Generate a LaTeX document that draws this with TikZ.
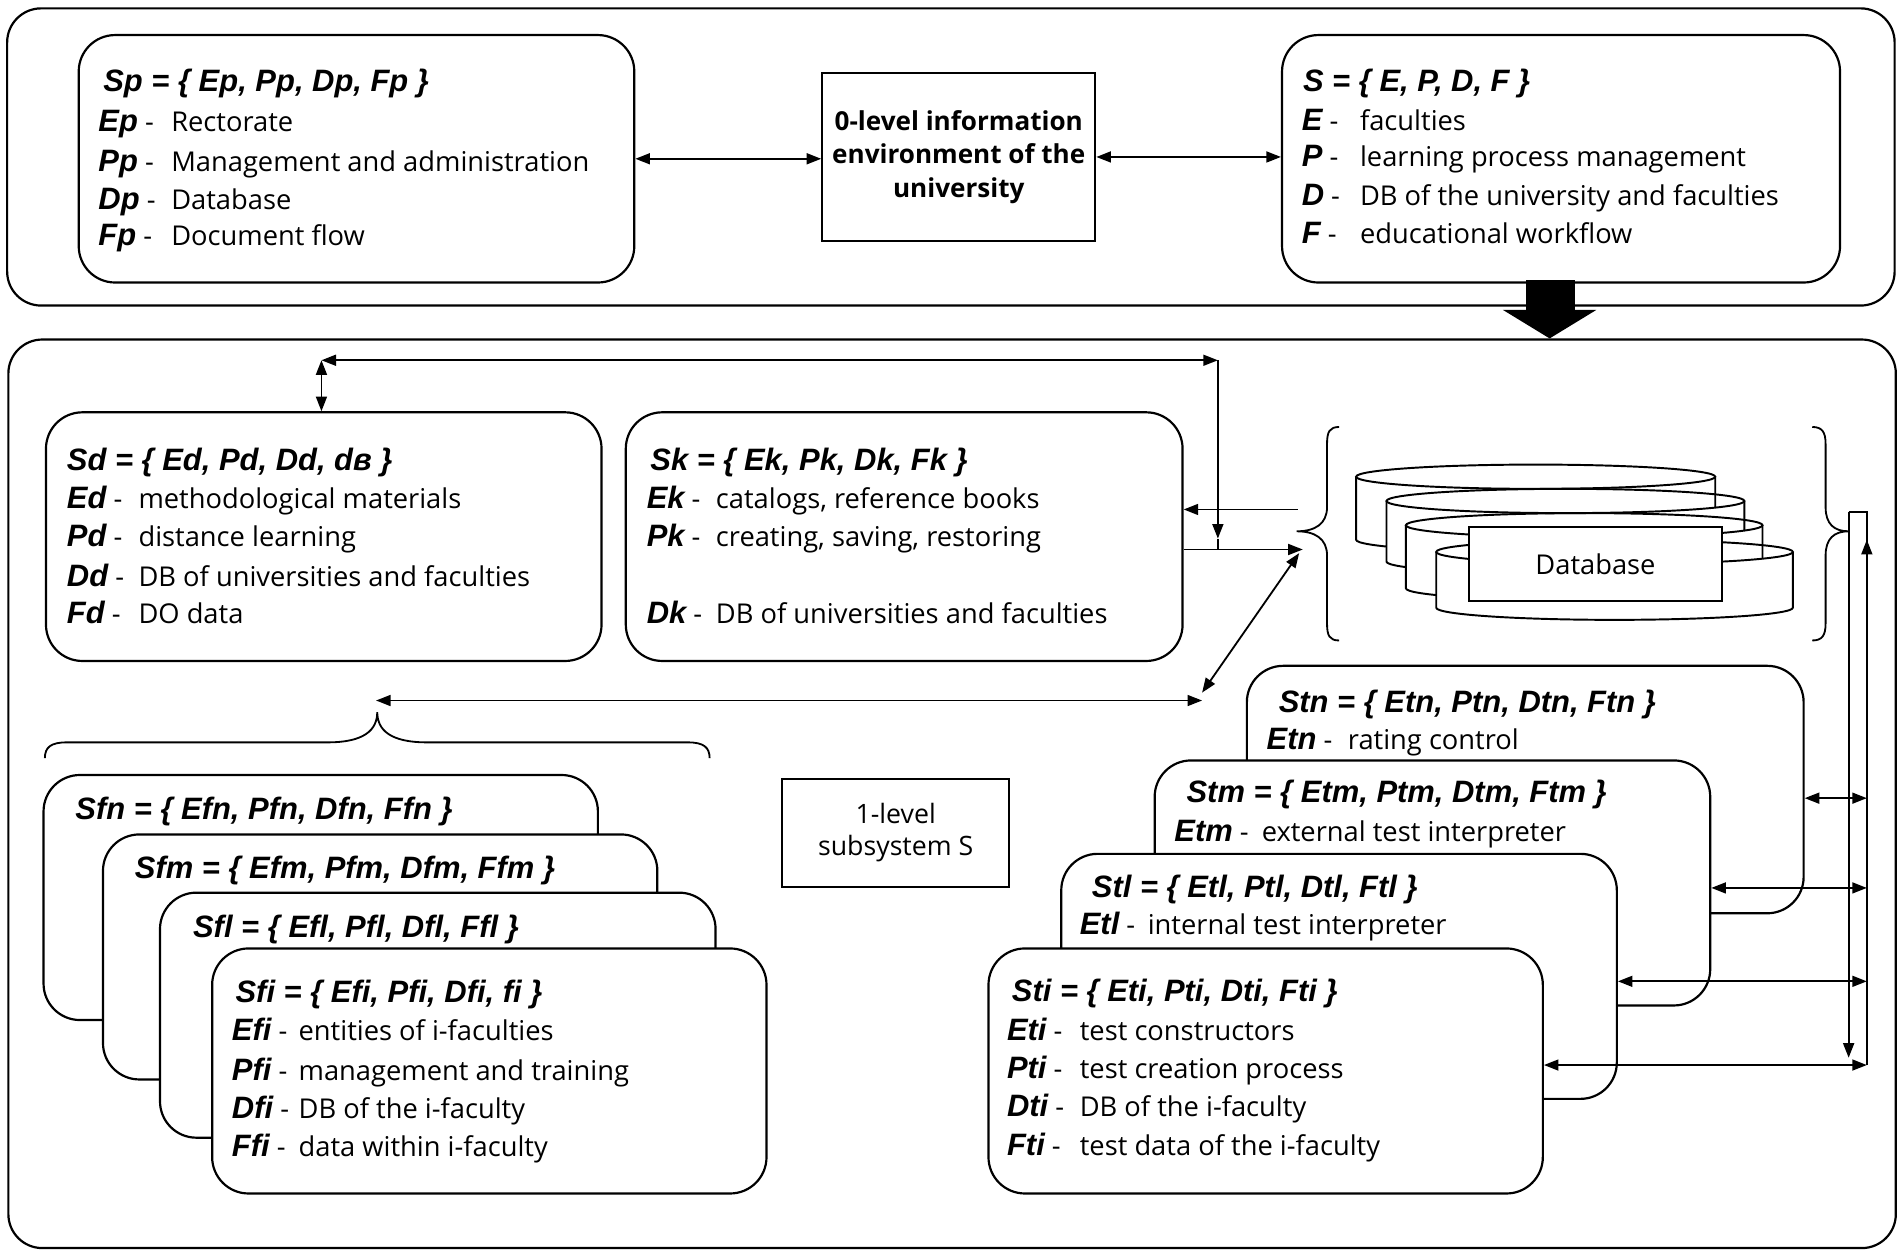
\documentclass[tikz,border=0pt]{standalone}
\usepackage{fontspec}
\setmainfont{Open Sans}
\newfontfamily\labfont{Liberation Sans}[Ligatures=NoCommon]
\usetikzlibrary{arrows.meta}
\newcommand\labsty{\labfont\bfseries\itshape\fontsize{25.5}{30}\selectfont}
\newcommand\rowtxt[6]{%
  \node[lab] (#1l) at (#2,#3+8.5) {{\labsty #4}\ -};
  \node[desc] (#1d) at (#5,#3+8.5) {#6};}
\newcommand\titletxt[4]{\node[lab] (#1) at (#2,#3+8.5) {{\labsty #4}};}
\newcommand\dbcyl[4]{%
  \fill[white] (#1,#2) arc[start angle=180,end angle=360,x radius=#4pt,y radius=10pt]
     -- (#1+2*#4,#3) arc[start angle=360,end angle=180,x radius=#4pt,y radius=10pt] -- cycle;
  \draw[line width=1.6pt] (#1,#2) -- (#1,#3) arc[start angle=180,end angle=360,x radius=#4pt,y radius=10pt] -- (#1+2*#4,#2);
  \draw[line width=1.6pt] (#1+#4,#2) ellipse[x radius=#4pt,y radius=10pt];}
\begin{document}
\begin{tikzpicture}[x=1pt,y=-1pt,
  outer/.style={draw, line width=1.8pt, rounded corners=28pt, anchor=north west, inner sep=0pt},
  box/.style={draw, fill=white, line width=1.8pt, rounded corners=30pt, anchor=north west, inner sep=0pt,
              minimum width=458pt, minimum height=202pt},
  plain/.style={draw, fill=white, line width=1.8pt, anchor=north west, inner sep=0pt, align=center},
  lab/.style={anchor=base west, inner sep=0pt, font=\fontsize{22.5}{30}\selectfont},
  desc/.style={anchor=base west, inner sep=0pt, font=\fontsize{22.5}{30}\selectfont},
  conn/.style={line width=1.5pt},
  arr/.style={conn, arrows={-Triangle[length=12pt,width=9pt]}},
  dbl/.style={conn, arrows={Triangle[length=12pt,width=9pt]-Triangle[length=12pt,width=9pt]}},
  brace/.style={line width=1.5pt}]
\useasboundingbox (0,0) rectangle (1568,1035.4);
\fill[white] (0,0) rectangle (1568,1035.4);

% ---------- top level ----------
\node[outer, minimum width=1556pt, minimum height=245pt] (topbox) at (5,6) {};
\node[box, minimum height=204pt] (sp) at (64,28) {};
\titletxt{sptitle}{85}{67}{Sp = \{ Ep, Pp, Dp, Fp \}}
\rowtxt{spE}{81}{100}{Ep}{141}{Rectorate}
\rowtxt{spP}{81}{133}{Pp}{141}{Management and administration}
\rowtxt{spD}{81}{164}{Dp}{141}{Database}
\rowtxt{spF}{81}{194}{Fp}{141}{Document flow}

\node[plain, minimum width=225pt, minimum height=139pt, font=\bfseries\fontsize{21.5}{27.5}\selectfont]
  (lvl0) at (677,59) {0-level information\\environment of the\\university};

\node[box, minimum width=460pt, minimum height=204pt] (s) at (1056,28) {};
\titletxt{stitle}{1074}{67}{S = \{ E, P, D, F \}}
\rowtxt{sE}{1073}{99}{E}{1121}{faculties}
\rowtxt{sP}{1073}{129}{P}{1121}{learning process management}
\rowtxt{sD}{1073}{161}{D}{1121}{DB of the university and faculties}
\rowtxt{sF}{1073}{192}{F}{1121}{educational workflow}

\draw[dbl] (sp.east) -- (sp.east -| lvl0.west);
\draw[dbl] (lvl0.east) -- (lvl0.east -| s.west);

% ---------- lower level ----------
\node[outer, minimum width=1556pt, minimum height=749pt] (botbox) at (6,279) {};

% thick arrow
\fill (1258,231) rectangle (1298,256);
\fill (1239,255.5) -- (1316,255.5) -- (1277.5,279) -- cycle;

\node[box, minimum height=205pt] (sd) at (37,339) {};
\titletxt{sdtitle}{55}{379}{Sd = \{ Ed, Pd, Dd, dв \}}
\rowtxt{sdE}{55}{411}{Ed}{114}{methodological materials}
\rowtxt{sdP}{55}{442}{Pd}{114}{distance learning}
\rowtxt{sdD}{55}{475}{Dd}{114}{DB of universities and faculties}
\rowtxt{sdF}{55}{505.5}{Fd}{114}{DO data}

\node[box, minimum width=459pt, minimum height=205pt] (sk) at (515,339) {};
\titletxt{sktitle}{536}{379}{Sk = \{ Ek, Pk, Dk, Fk \}}
\rowtxt{skE}{533}{411}{Ek}{590}{catalogs, reference books}
\rowtxt{skP}{533}{442}{Pk}{590}{creating, saving, restoring}
\rowtxt{skD}{533}{505.5}{Dk}{590}{DB of universities and faculties}

% database
\dbcyl{1118}{393}{445}{148}
\dbcyl{1143}{413}{463}{147.5}
\dbcyl{1159}{433}{485}{147}
\dbcyl{1184}{455}{501}{147}
\node[plain, line width=1.6pt, minimum width=209pt, minimum height=61pt, font=\fontsize{22.5}{27}\selectfont]
  (db) at (1210,434) {Database};

% braces around database
\coordinate (lbt) at (1069,438);
\coordinate (rbt) at (1524,438);
\draw[brace] (1104,352) .. controls (1096,352) and (1094,356) .. (1094,366) -- (1094,418)
  .. controls (1094,432) and (1084,438) .. (lbt) .. controls (1084,438) and (1094,444) .. (1094,458)
  -- (1094,514) .. controls (1094,524) and (1096,528) .. (1104,528);
\draw[brace] (1494,352) .. controls (1502,352) and (1505,356) .. (1505,366) -- (1505,418)
  .. controls (1505,432) and (1512,438) .. (rbt) .. controls (1512,438) and (1505,444) .. (1505,458)
  -- (1505,514) .. controls (1505,524) and (1502,528) .. (1494,528);

% connectors near Sd / Sk
\coordinate (tl) at (265,297);
\coordinate (tr) at (1004,297);
\coordinate (trd) at (1004,444);
\draw[dbl] (tl) -- (tl |- sd.north);
\draw[dbl] (tl) -- (tr);
\draw[arr] (tr) -- (trd);
\draw[conn] (trd) -- ++(0,9);
\coordinate (skin) at (1074,453);
\coordinate (dbout) at (1070,420);
\draw[arr] (sk.east |- skin) -- (skin);
\draw[arr] (dbout) -- (sk.east |- dbout);
\coordinate (dgA) at (1071,456);
\coordinate (dgB) at (991,571);
\draw[dbl] (dgA) -- (dgB);
\coordinate (hlL) at (310,577.5);
\coordinate (hlR) at (991,577.5);
\draw[dbl] (hlL) -- (hlR);

% brace above faculties
\coordinate (fbt) at (311,587);
\draw[brace] (37,625) .. controls (37,616) and (42,612) .. (55,612) -- (270,612)
  .. controls (300,612) and (311,602) .. (fbt) .. controls (311,602) and (322,612) .. (352,612)
  -- (567,612) .. controls (580,612) and (585,616) .. (585,625);

% faculty stack
\node[box, minimum width=457pt] (sfn) at (35,638) {};
\titletxt{sfntitle}{62}{667}{Sfn = \{ Efn, Pfn, Dfn, Ffn \}}
\node[box, minimum width=457pt] (sfm) at (84,687) {};
\titletxt{sfmtitle}{111}{716}{Sfm = \{ Efm, Pfm, Dfm, Ffm \}}
\node[box] (sfl) at (131,735) {};
\titletxt{sfltitle}{159}{764}{Sfl = \{ Efl, Pfl, Dfl, Ffl \}}
\node[box, minimum width=457pt] (sfi) at (174,781) {};
\titletxt{sfititle}{194}{818}{Sfi = \{ Efi, Pfi, Dfi, fi \}}
\rowtxt{sfiE}{191}{849}{Efi}{246}{entities of i-faculties}
\rowtxt{sfiP}{191}{882}{Pfi}{246}{management and training}
\rowtxt{sfiD}{191}{913.6}{Dfi}{246}{DB of the i-faculty}
\rowtxt{sfiF}{191}{945}{Ffi}{246}{data within i-faculty}

% 1-level subsystem
\node[plain, minimum width=187pt, minimum height=89pt, font=\fontsize{22}{27}\selectfont]
  (lvl1) at (644,641) {1-level\\subsystem S};

% test stack
\node[box, minimum width=459pt, minimum height=204pt] (stn) at (1027,548) {};
\titletxt{stntitle}{1054}{579}{Stn = \{ Etn, Ptn, Dtn, Ftn \}}
\rowtxt{stnE}{1044}{609}{Etn}{1111}{rating control}
\node[box] (stm) at (951,626) {};
\titletxt{stmtitle}{978}{653}{Stm = \{ Etm, Ptm, Dtm, Ftm \}}
\rowtxt{stmE}{968}{685}{Etm}{1040}{external test interpreter}
\node[box] (stl) at (874,703) {};
\titletxt{stltitle}{900}{731}{Stl = \{ Etl, Ptl, Dtl, Ftl \}}
\rowtxt{stlE}{890}{762}{Etl}{946}{internal test interpreter}
\node[box, minimum width=457pt] (sti) at (814,781) {};
\titletxt{stititle}{834}{817}{Sti = \{ Eti, Pti, Dti, Fti \}}
\rowtxt{stiE}{830}{849}{Eti}{890}{test constructors}
\rowtxt{stiP}{830}{881}{Pti}{890}{test creation process}
\rowtxt{stiD}{830}{912}{Dti}{890}{DB of the i-faculty}
\rowtxt{stiF}{830}{944}{Fti}{890}{test data of the i-faculty}

% right bus
\coordinate (rl) at (1524,422);
\coordinate (rr) at (1539,422);
\coordinate (rlb) at (1524,872);
\coordinate (rrb) at (1539,878);
\draw[conn] (rl) -- (rr) -- (rrb);
\draw[arr] (rl) -- (rlb);
\draw[arr] (1539,480) -- (1539,445);
\coordinate (r1) at (1539,658);
\coordinate (r2) at (1539,732);
\coordinate (r3) at (1539,809);
\draw[dbl] (stn.east |- r1) -- (r1);
\draw[dbl] (stm.east |- r2) -- (r2);
\draw[dbl] (stl.east |- r3) -- (r3);
\draw[dbl] (sti.east |- rrb) -- (rrb);
\end{tikzpicture}
\end{document}
